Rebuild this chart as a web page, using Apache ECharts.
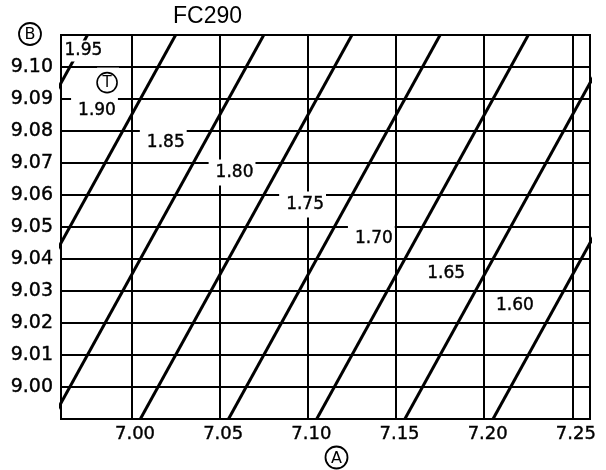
<!DOCTYPE html>
<html>
<head>
<meta charset="utf-8">
<script src="https://cdn.jsdelivr.net/npm/echarts@6/dist/echarts.min.js"></script>
<style>
    html, body { margin: 0; padding: 0; background: #fff; }
    #chart { width: 606px; height: 470px; }
</style>
</head>
<body>
<div id="chart"></div>
<script>
// tick values of the two axes
var aTicks = [7.00, 7.05, 7.10, 7.15, 7.20, 7.25];
var bTicks = [9.00, 9.01, 9.02, 9.03, 9.04, 9.05, 9.06, 9.07, 9.08, 9.09, 9.10];

// T isolines, read where each one meets the bottom (B=8.99) and top (B=9.11) of the frame
var tValues = [1.95, 1.90, 1.85, 1.80, 1.75, 1.70, 1.65, 1.60];
var bBottom = 8.99, bTop = 9.11;
var aAtBottom = [6.855, 6.905, 6.955, 7.005, 7.055, 7.105, 7.155, 7.205];
var aAtTop = [6.975, 7.025, 7.075, 7.125, 7.175, 7.225, 7.275, 7.325];

// where the T labels sit (A, B)
var labelA = [6.973, 6.979, 7.018, 7.057, 7.097, 7.136, 7.177, 7.216];
var labelB = [9.105, 9.0865, 9.0765, 9.067, 9.057, 9.0465, 9.0355, 9.0255];
var tMark = [6.9867, 9.0959];

var chart = echarts.init(document.getElementById('chart'));

var series = [];
tValues.forEach(function (t, i) {
    series.push({
        name: t.toFixed(2),
        type: 'line',
        symbol: 'none',
        silent: true,
        clip: true,
        z: 3,
        lineStyle: { color: '#000', width: 3 },
        data: [[aAtBottom[i], bBottom], [aAtTop[i], bTop]]
    });
});

// label boxes: white, they cut the grid lines like on the sheet
function boxPadding(i) {
    if (i === 0) return [3, 2, 1, 1];
    if (i >= 6) return [3, 2, 1, 7];
    return [8, 2, 1, 7];
}

series.push({
    type: 'custom',
    silent: true,
    z: 10,
    data: tValues.map(function (t, i) { return [labelA[i], labelB[i]]; }),
    renderItem: function (params, api) {
        var p = api.coord([api.value(0), api.value(1)]);
        return {
            type: 'text',
            x: p[0],
            y: p[1],
            z2: 10,
            style: {
                text: tValues[params.dataIndex].toFixed(2),
                font: '17px "DejaVu Sans"',
                fill: '#000',
                stroke: '#000',
                lineWidth: 0.4,
                align: 'center',
                verticalAlign: 'middle',
                backgroundColor: '#fff',
                padding: boxPadding(params.dataIndex)
            }
        };
    }
});

// circled T
series.push({
    type: 'custom',
    silent: true,
    z: 10,
    data: [tMark],
    renderItem: function (params, api) {
        var p = api.coord([api.value(0), api.value(1)]);
        return {
            type: 'text',
            x: p[0],
            y: p[1],
            z2: 10,
            style: {
                text: '{c|T}',
                align: 'center',
                verticalAlign: 'middle',
                backgroundColor: '#fff',
                padding: [5, 2, 0, 0],
                rich: {
                    c: {
                        width: 20, height: 20, lineHeight: 20, align: 'center',
                        borderColor: '#000', borderWidth: 1.6, borderRadius: 11,
                        font: '15px "DejaVu Sans"', fill: '#000'
                    }
                }
            }
        };
    }
});

var option = {
    animation: false,
    title: {
        text: 'FC290',
        left: 173,
        top: 5,
        padding: 0,
        textStyle: { fontFamily: 'Liberation Sans', fontSize: 23, fontWeight: 'normal', color: '#000' }
    },
    grid: {
        left: 61, right: 16, top: 35, bottom: 51,
        show: true,
        borderColor: '#000',
        borderWidth: 2,
        outerBoundsMode: 'none'
    },
    xAxis: {
        type: 'value',
        min: 6.96,
        max: 7.26,
        axisLine: { show: false },
        axisTick: { show: false, customValues: aTicks },
        axisLabel: {
            customValues: aTicks,
            formatter: function (v) { return v.toFixed(2); },
            fontFamily: 'DejaVu Sans',
            fontSize: 18,
            color: '#000',
            textBorderColor: '#000',
            textBorderWidth: 0.4,
            margin: 6,
            padding: [0, 0, 0, 7]
        },
        splitLine: { show: true, lineStyle: { color: '#000', width: 2 } }
    },
    yAxis: {
        type: 'value',
        min: 8.99,
        max: 9.11,
        axisLine: { show: false },
        axisTick: { show: false, customValues: bTicks },
        axisLabel: {
            customValues: bTicks,
            formatter: function (v) { return v.toFixed(2); },
            fontFamily: 'DejaVu Sans',
            fontSize: 19,
            color: '#000',
            textBorderColor: '#000',
            textBorderWidth: 0.4,
            margin: 8
        },
        splitLine: { show: true, lineStyle: { color: '#000', width: 2 } }
    },
    graphic: [
        { type: 'circle', shape: { cx: 30, cy: 34, r: 11 }, style: { fill: '#fff', stroke: '#000', lineWidth: 1.8 } },
        { type: 'text', x: 30, y: 35, style: { text: 'B', font: '16px "DejaVu Sans"', fill: '#000', align: 'center', verticalAlign: 'middle' } },
        { type: 'circle', shape: { cx: 336.5, cy: 457.5, r: 11 }, style: { fill: '#fff', stroke: '#000', lineWidth: 1.8 } },
        { type: 'text', x: 336.5, y: 458.5, style: { text: 'A', font: '16px "DejaVu Sans"', fill: '#000', align: 'center', verticalAlign: 'middle' } }
    ],
    series: series
};

chart.setOption(option);
</script>
</body>
</html>
